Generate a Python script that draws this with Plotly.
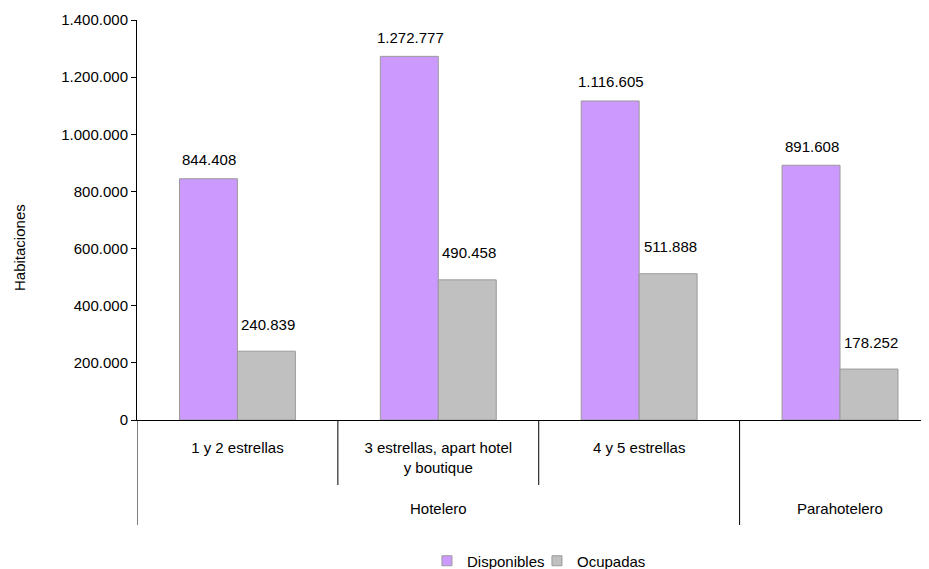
'''
Habitaciones disponibles y ocupadas por tipo de establecimiento.
'''

import plotly.graph_objects as go

# Data
categorias = ['1 y 2 estrellas', '3 estrellas, apart hotel y boutique',
              '4 y 5 estrellas', 'Parahotelero']
etiquetas_x = ['1 y 2 estrellas', '3 estrellas, apart hotel<br>y boutique',
               '4 y 5 estrellas', '']
grupos = ['Hotelero', 'Hotelero', 'Hotelero', 'Parahotelero']
disponibles = [844408, 1272777, 1116605, 891608]
ocupadas = [240839, 490458, 511888, 178252]

FONT = 'Liberation Sans, Arial, sans-serif'
FS = 15
COLORES = {'Disponibles': '#CC99FF', 'Ocupadas': '#C0C0C0'}
BORDE = '#9a9a9a'


def fmt(v: int) -> str:
    return f'{v:,}'.replace(',', '.')


fig = go.Figure()

for nombre, valores in [('Disponibles', disponibles), ('Ocupadas', ocupadas)]:
    fig.add_trace(go.Bar(
        x=categorias, y=valores, name=nombre, showlegend=False,
        marker={'color': COLORES[nombre], 'line': {'color': BORDE, 'width': 1}}
    ))
    # small square legend entries like the original
    fig.add_trace(go.Scatter(
        x=[None], y=[None], mode='markers', name=nombre,
        marker={'symbol': 'square', 'size': 10, 'color': COLORES[nombre],
                'line': {'color': BORDE, 'width': 1}}
    ))

# Value labels (purple just above the bar, grey a bit higher)
for cat, d, o in zip(categorias, disponibles, ocupadas):
    fig.add_annotation(x=cat, y=d, text=fmt(d), showarrow=False,
                       xshift=-28, yshift=19, yanchor='middle',
                       font={'size': FS, 'color': 'black', 'family': FONT})
    fig.add_annotation(x=cat, y=o, text=fmt(o), showarrow=False,
                       xshift=31, yshift=27, yanchor='middle',
                       font={'size': FS, 'color': 'black', 'family': FONT})

# Category dividers below the axis
n = len(categorias)
for i in range(n):
    left = i - 0.5
    nuevo_grupo = i == 0 or grupos[i] != grupos[i - 1]
    fig.add_shape(type='line', xref='x', yref='paper',
                  x0=left, x1=left, y0=0, y1=-0.2625 if nuevo_grupo else -0.1625,
                  line={'color': 'black', 'width': 1})

# Group labels
vistos = []
for g in grupos:
    if g not in vistos:
        vistos.append(g)
for g in vistos:
    idx = [i for i, gg in enumerate(grupos) if gg == g]
    fig.add_annotation(x=sum(idx) / len(idx), y=-0.2225, xref='x', yref='paper',
                       text=g, showarrow=False, yanchor='middle',
                       font={'size': FS, 'color': 'black', 'family': FONT})

# Axis title
fig.add_annotation(x=-0.149, y=0.4325, xref='paper', yref='paper',
                   text='Habitaciones', textangle=-90, showarrow=False,
                   xanchor='center', yanchor='middle',
                   font={'size': FS, 'color': 'black', 'family': FONT})

# page body has an 8px margin; figure is taller than the window so the
# legend never pushes the bottom margin
fig.update_layout(
    width=921, height=575,
    margin={'l': 129, 'r': 0, 't': 12, 'b': 163},
    barmode='group', bargap=0.423, bargroupgap=0,
    separators=',.',
    plot_bgcolor='white', paper_bgcolor='white',
    font={'family': FONT, 'size': FS, 'color': 'black'},
    xaxis={
        'type': 'category', 'range': [-0.5, 3.443],
        'tickmode': 'array', 'tickvals': categorias, 'ticktext': etiquetas_x,
        'showline': True, 'linecolor': 'black', 'linewidth': 1,
        'ticks': '', 'showgrid': False, 'ticklabelstandoff': 14,
        'tickfont': {'size': FS},
    },
    yaxis={
        'range': [0, 1400000], 'dtick': 200000, 'tickformat': ',d',
        'showline': True, 'linecolor': 'black', 'linewidth': 1,
        'ticks': 'outside', 'ticklen': 5, 'tickcolor': 'black',
        'showgrid': False, 'zeroline': False, 'tickfont': {'size': FS},
    },
    legend={
        'orientation': 'h', 'x': 0.505, 'xanchor': 'center',
        'y': -0.3525, 'yanchor': 'middle', 'font': {'size': FS},
        'itemwidth': 30, 'entrywidth': 65,
    },
    showlegend=True,
)

fig.write_html('out.html')
